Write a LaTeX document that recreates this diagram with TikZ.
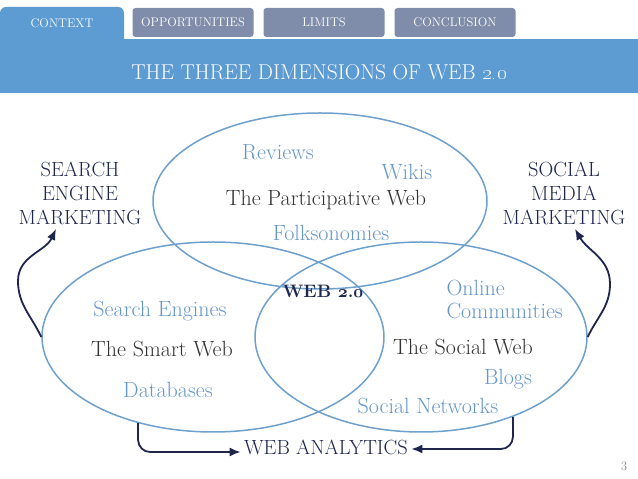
\documentclass[tikz,border=0pt]{standalone}
\usetikzlibrary{shapes.geometric,arrows.meta}

\begin{document}
\begin{tikzpicture}[x=1pt,y=1pt,
  tab/.style={rounded corners=3pt,fill=Ctab,text=white,minimum width=121pt,
    minimum height=29pt,font=\fontsize{12.5}{14}\selectfont},
  dim/.style={ellipse,draw=Cring,line width=1.5pt,inner sep=0pt},
  item/.style={text=Citem,font=\fontsize{22}{23}\selectfont},
  web/.style={text=Cweb,font=\fontsize{22}{23}\selectfont},
  mkt/.style={text=Cnavy,align=center,font=\fontsize{20.5}{24}\selectfont},
  flow/.style={draw=Cnavy,line width=1.8pt,-{Latex[length=11pt,width=9pt]}}]

% Slide: 638 x 479 px, 1px = 1pt, y measured from the bottom
%   Y = 479 - y(px)

% ── Colours ──────────────────────────────────────────────────────────────────
\definecolor{Cband}{RGB}{93,155,211}    % active tab + title band
\definecolor{Ctab}{RGB}{127,141,170}    % inactive tabs
\definecolor{Cring}{RGB}{110,160,205}   % ellipse outlines
\definecolor{Citem}{RGB}{100,150,200}   % examples inside the rings
\definecolor{Cweb}{RGB}{50,50,50}       % ring names
\definecolor{Cnavy}{RGB}{30,38,78}      % marketing labels + arrows

\useasboundingbox (0,0) rectangle (638,479);

% ── Header ───────────────────────────────────────────────────────────────────
\fill[Cband,rounded corners=6pt] (0,430) -- (0,472) -- (124,472) -- (124,430) -- cycle;
\fill[Cband] (0,386) rectangle (638,440);
\node[text=white,font=\fontsize{12.5}{14}\selectfont] (tabCtx) at (62,456) {CONTEXT};

\foreach \x/\lbl/\nm in {193/OPPORTUNITIES/tabOpp, 324/LIMITS/tabLim, 455/CONCLUSION/tabCon}
  \node[tab] (\nm) at (\x,456.5) {\lbl};

\node[text=white,font=\fontsize{21.5}{24}\selectfont] (title) at (319,407)
  {THE THREE DIMENSIONS OF WEB \oldstylenums{2.0}};

% ── The three rings ──────────────────────────────────────────────────────────
\node[dim,minimum width=334pt,minimum height=176pt] (part)   at (320,278) {};
\node[dim,minimum width=342pt,minimum height=190pt] (smart)  at (213,142) {};
\node[dim,minimum width=332pt,minimum height=190pt] (social) at (421,142) {};

% participative web
\node[item] (reviews) at (278,327) {Reviews};
\node[item] (wikis)   at (407,307) {Wikis};
\node[web]  (partweb) at (326,279) {The Participative Web};
\node[item] (folks)   at (331,246) {Folksonomies};

% centre
\node[text=Cnavy,font=\fontsize{18}{20}\selectfont\bfseries] (webtwo) at (323,188)
  {WEB {\usefont{OML}{cmm}{b}{it}2}.{\usefont{OML}{cmm}{b}{it}0}};

% smart web
\node[item] (search)   at (160,168) {Search Engines};
\node[web]  (smartweb) at (162,130) {The Smart Web};
\node[item] (dbases)   at (168,89)  {Databases};

% social web
\node[item,align=left,anchor=west] (online) at (443,179.5) {Online\\Communities};
\node[web]  (socweb)  at (463,132) {The Social Web};
\node[item] (blogs)   at (508,100) {Blogs};
\node[item] (socnet)  at (428,73)  {Social Networks};

% ── Marketing fields ─────────────────────────────────────────────────────────
\node[mkt] (sem) at (80,286)  {SEARCH\\ENGINE\\MARKETING};
\node[mkt] (smm) at (564,286) {SOCIAL\\MEDIA\\MARKETING};
\node[text=Cnavy,font=\fontsize{20.5}{22}\selectfont] (wanac) at (326,32) {WEB ANALYTICS};

% ── Arrows ───────────────────────────────────────────────────────────────────
\draw[flow] (smart.west) to[out=115,in=-90] (18,198)
  to[out=90,in=-115] ([xshift=-24pt,yshift=-1pt]sem.south);
\draw[flow] (social.east) to[out=65,in=-90] (610,195)
  to[out=90,in=-60] ([xshift=11pt,yshift=-1pt]smm.south);
\draw[flow,rounded corners=12pt] (smart.229) |- ([yshift=-5pt]wanac.west);
\draw[flow,rounded corners=12pt] (social.-41) |- ([yshift=-2pt]wanac.east);

% page number
\node[text=black!45,font=\fontsize{13}{15}\selectfont] (pageno) at (624,13) {3};

\end{tikzpicture}
\end{document}
